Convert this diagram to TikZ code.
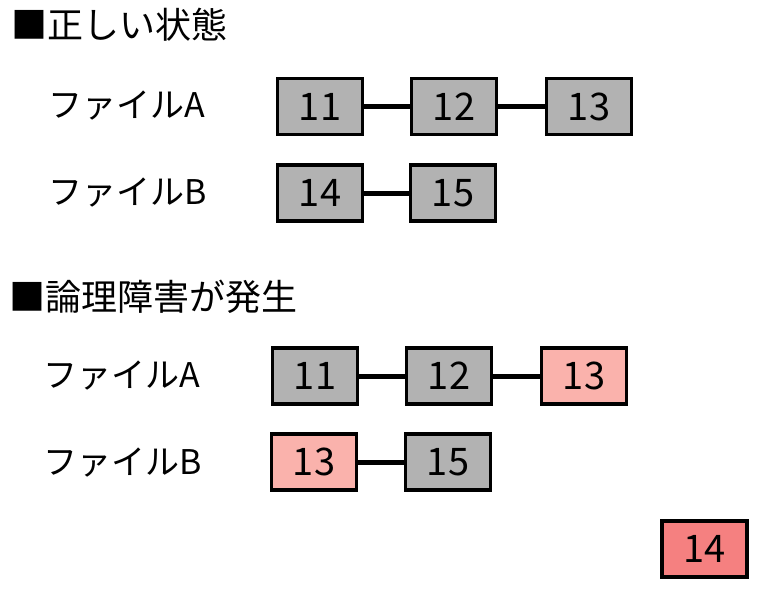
\documentclass[tikz,border=0pt]{standalone}
\usepackage{fontspec}
\setmainfont{Noto Sans CJK JP}
\usepackage{xcolor}
\usepackage{tikz}
\usetikzlibrary{positioning}
\definecolor{blkgray}{RGB}{178,178,178}
\definecolor{badpink}{RGB}{250,178,172}
\definecolor{lostred}{RGB}{245,128,128}

\begin{document}
\begin{tikzpicture}[x=1pt,y=-1pt,
  blk/.style={rectangle,draw,line width=3.5pt,fill=blkgray,minimum width=85pt,minimum height=56pt,
    inner sep=0pt,font=\fontsize{38}{40}\selectfont},
  bad/.style={blk,fill=badpink},
  lost/.style={blk,fill=lostred},
  lbl/.style={anchor=west,font=\fontsize{34}{38}\selectfont},
  ttl/.style={anchor=west,font=\fontsize{36}{40}\selectfont},
  link/.style={line width=5pt}]
  \useasboundingbox (0,0) rectangle (764,590);
  % normal state
  \node[ttl] (T1) at (8,25) {■正しい状態};
  \node[lbl] (LA1) at (45,106) {ファイルA};
  \node[lbl] (LB1) at (45,193) {ファイルB};
  \node[blk] (A11) at (320,106.5) {11};
  \node[blk] (A12) at (454,106.5) {12};
  \node[blk] (A13) at (589,106.5) {13};
  \node[blk] (B14) at (320,193) {14};
  \node[blk] (B15) at (453,193) {15};
  \foreach \a/\b in {A11/A12,A12/A13,B14/B15} {
    \draw[link] (\a) -- (\b);
  }
  % logical failure
  \node[ttl] (T2) at (6,297) {■論理障害が発生};
  \node[lbl] (LA2) at (40,376) {ファイルA};
  \node[lbl] (LB2) at (40,463) {ファイルB};
  \node[blk] (C11) at (315,376) {11};
  \node[blk] (C12) at (449,376) {12};
  \node[bad] (C13) at (584,376) {13};
  \node[bad] (D13) at (314,462) {13};
  \node[blk] (D15) at (448,462) {15};
  \node[lost] (L14) at (704.5,549) {14};
  \foreach \a/\b in {C11/C12,C12/C13,D13/D15} {
    \draw[link] (\a) -- (\b);
  }
\end{tikzpicture}
\end{document}
